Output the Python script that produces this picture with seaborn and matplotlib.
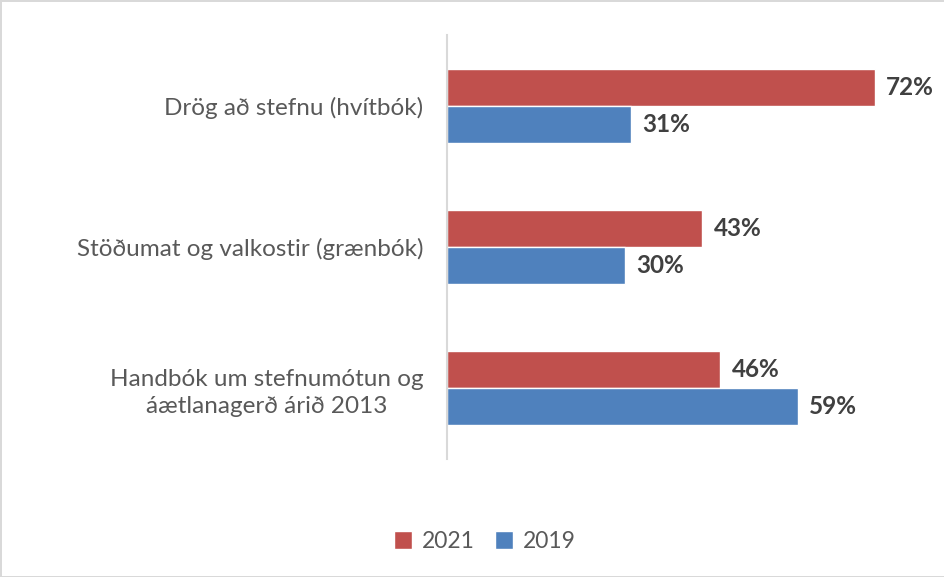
import pandas as pd
import matplotlib.pyplot as plt
import seaborn as sns

# Chart data
categories = ["Drög að stefnu (hvítbók)",
              "Stöðumat og valkostir (grænbók)",
              "Handbók um stefnumótun og\náætlanagerð árið 2013"]
years = ["2021", "2019"]
values_2021 = [72, 43, 46]
values_2019 = [31, 30, 59]

colors = {"2021": "#C0504D", "2019": "#4F81BD"}

df = pd.DataFrame({
    "flokkur": categories * 2,
    "ar": ["2021"] * 3 + ["2019"] * 3,
    "hlutfall": values_2021 + values_2019,
})

sns.set_style("white")
plt.rcParams['font.family'] = ['Lato', 'DejaVu Sans']

fig = plt.figure(figsize=(9.45, 5.77), dpi=100)
ax = fig.add_axes([0.473, 0.2045, 0.503, 0.7345])

sns.barplot(data=df, y="flokkur", x="hlutfall", hue="ar", hue_order=years,
            palette=colors, orient="h", width=0.525, ax=ax, saturation=1)

# value labels on bars
for cont in ax.containers:
    ax.bar_label(cont, fmt="%d%%", padding=8, fontsize=17.5,
                 fontweight="bold", color="#404040")

ax.set_xlim(0, 80)
ax.set_xlabel("")
ax.set_ylabel("")
ax.set_xticks([])
ax.tick_params(axis="y", length=0, pad=17, labelsize=17.5, labelcolor="#595959")
for lbl in ax.get_yticklabels():
    lbl.set_horizontalalignment("right")
    lbl.set_multialignment("center")
    lbl.set_linespacing(1.35)

for side in ["top", "right", "bottom"]:
    ax.spines[side].set_visible(False)
ax.spines["left"].set_color("#D9D9D9")
ax.spines["left"].set_linewidth(1.5)

ax.legend(loc="center", bbox_to_anchor=(0.513, 0.062), bbox_transform=fig.transFigure,
          ncol=2, frameon=False, fontsize=16.5, labelcolor="#595959",
          handlelength=0.8, handleheight=0.8, handletextpad=0.4, columnspacing=0.9)

fig.patch.set_edgecolor("#D9D9D9")
fig.patch.set_linewidth(2)

fig.savefig("out.png", dpi=100, facecolor="white", edgecolor=fig.get_edgecolor())
